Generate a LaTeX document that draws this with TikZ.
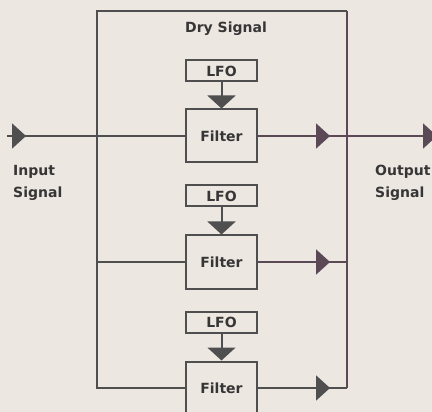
\documentclass[tikz,border=0pt]{standalone}
\usepackage{fontspec}
\setmainfont{DejaVu Sans}
\usetikzlibrary{arrows.meta, positioning, decorations.markings}
\definecolor{paper}{HTML}{EDE7E2}
\definecolor{wiregrey}{HTML}{4F4F4F}
\definecolor{inkgrey}{HTML}{363636}
\definecolor{plum}{HTML}{5B4A55}
\tikzstyle{lfo} = [rectangle, minimum width=71pt, minimum height=21pt, text centered, draw=wiregrey, line width=2pt, text=inkgrey, font=\bfseries\fontsize{14}{16}\selectfont]
\tikzstyle{filter} = [lfo, minimum height=53pt]
\tikzstyle{sigtext} = [font=\bfseries\fontsize{14}{22}\selectfont, text=inkgrey, inner sep=0pt]
\tikzstyle{wire} = [line width=2pt, draw=wiregrey]
\tikzstyle{ctrl} = [line width=2pt, draw=wiregrey, -{Triangle[width=28pt,length=13pt]}]
\tikzset{tip at/.style={postaction=decorate, decoration={markings, mark=at position #1 with {\arrow{Triangle[width=25pt,length=14pt]}}}}}

\begin{document}
\begin{tikzpicture}[x=1pt, y=-1pt]
\clip (0,0) rectangle (432,412);
\fill[paper] (0,0) rectangle (432,412);

% filters with their LFOs
\node (filt1) [filter] at (221.5,136) {Filter};
\node (lfo1) [lfo, above=26pt of filt1] {LFO};
\node (lfo2) [lfo, below=21pt of filt1] {LFO};
\node (filt2) [filter, below=27pt of lfo2] {Filter};
\node (lfo3) [lfo, below=21pt of filt2] {LFO};
\node (filt3) [filter, below=27pt of lfo3] {Filter};

\coordinate (tl) at (97,11);
\coordinate (tr) at (347,11);
\coordinate (in) at (7,136);
\coordinate (out) at (437,136);

% signal paths
\draw[wire, tip at=19pt] (in) -- (filt1);
\draw[wire, draw=plum, tip at=72pt, -{Triangle[width=25pt,length=14pt]}] (filt1) -- (out);
\draw[wire] (filt1 -| tl) -- (tl) -- (tr);
\draw[wire, draw=plum] (tr) -- (filt3 -| tr);
\draw[wire] (filt1 -| tl) -- (filt3 -| tl) -- (filt3);
\draw[wire] (filt2 -| tl) -- (filt2);
\draw[wire, draw=plum, tip at=72pt] (filt2) -- (filt2 -| tr);
\draw[wire, tip at=72pt] (filt3) -- (filt3 -| tr);
\foreach \i in {1,2,3}
  \draw[ctrl] (lfo\i) -- (filt\i);

\node (dry) [sigtext] at (226,29) {Dry Signal};
\node (insig) [sigtext, anchor=west, align=left] at (13,183) {Input\\Signal};
\node (outsig) [sigtext, anchor=west, align=left] at (375,183) {Output\\Signal};
\end{tikzpicture}
\end{document}
